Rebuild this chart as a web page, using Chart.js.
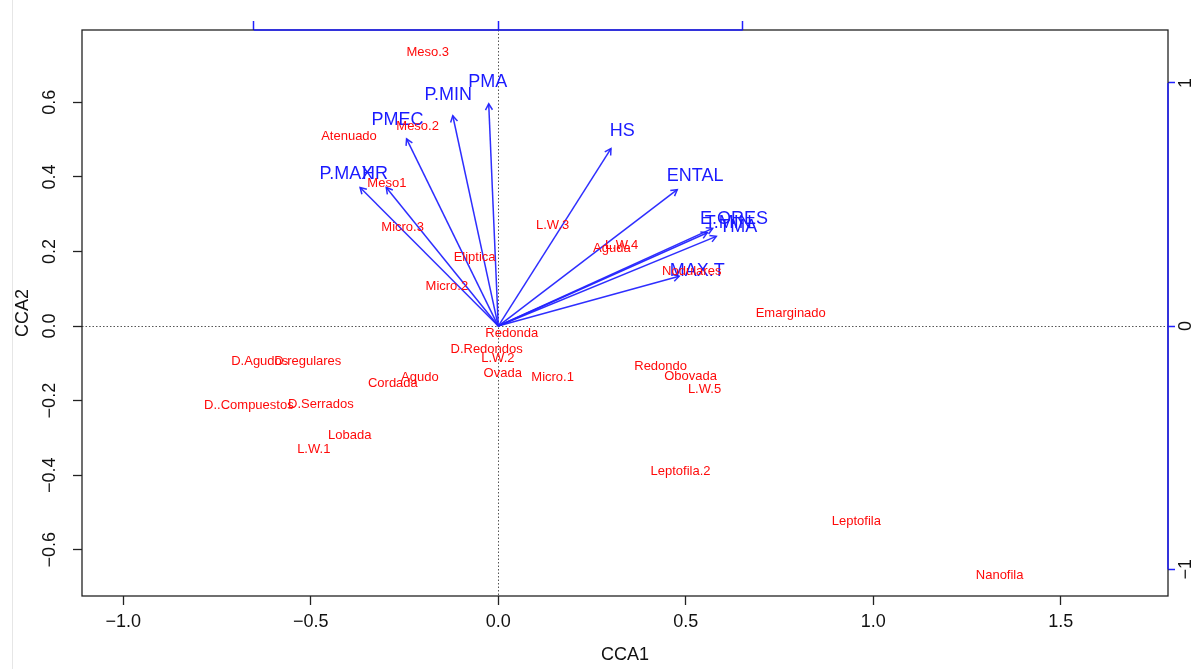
<!DOCTYPE html>
<html lang="es">
<head>
<meta charset="UTF-8">
<title>CCA</title>
<style>
  html, body { margin: 0; padding: 0; background: #fff; }
  canvas { display: block; }
</style>
</head>
<body>
<canvas id="cca" width="1197" height="669"></canvas>
<script src="https://cdn.jsdelivr.net/npm/chart.js"></script>
<script>
// puntajes de las categorias foliares (CCA1, CCA2)
const sitios = ['Meso.3', 'Atenuado', 'Meso.2', 'Meso1', 'Micro.3', 'Eliptica', 'Micro.2',
  'L.W.3', 'L.W.4', 'Aguda', 'Nodulares', 'Emarginado', 'Redonda', 'D.Redondos', 'L.W.2',
  'Ovada', 'Micro.1', 'D.Agudos', 'D.regulares', 'Cordada', 'Agudo', 'D..Compuestos',
  'D.Serrados', 'Lobada', 'L.W.1', 'Redondo', 'Obovada', 'L.W.5', 'Leptofila.2',
  'Leptofila', 'Nanofila'];
const sitiosCCA1 = [-0.188, -0.398, -0.215, -0.297, -0.255, -0.063, -0.137,
  0.145, 0.329, 0.303, 0.516, 0.780, 0.036, -0.031, -0.001,
  0.012, 0.145, -0.636, -0.508, -0.281, -0.209, -0.665,
  -0.473, -0.396, -0.492, 0.433, 0.513, 0.550, 0.486,
  0.955, 1.337];
const sitiosCCA2 = [0.735, 0.509, 0.536, 0.383, 0.265, 0.185, 0.105,
  0.271, 0.217, 0.209, 0.147, 0.035, -0.021, -0.062, -0.088,
  -0.126, -0.139, -0.094, -0.094, -0.153, -0.137, -0.214,
  -0.209, -0.292, -0.332, -0.107, -0.134, -0.169, -0.391,
  -0.523, -0.668];

// variables ambientales (puntajes biplot)
const variables = ['PMA', 'P.MIN', 'PMEC', 'P.MAX', 'HR', 'HS', 'ENTAL', 'E.ORES', 'T.MIN', 'TMA', 'MAX.T'];
const varCCA1 = [-0.039, -0.186, -0.375, -0.565, -0.458, 0.461, 0.732, 0.877, 0.855, 0.892, 0.740];
const varCCA2 = [0.914, 0.865, 0.770, 0.570, 0.570, 0.730, 0.561, 0.402, 0.384, 0.369, 0.205];

const ticksX = [-1.0, -0.5, 0.0, 0.5, 1.0, 1.5];
const ticksY = [-0.6, -0.4, -0.2, 0.0, 0.2, 0.4, 0.6];
const ticksBiplot = [-1, 0, 1];

// limites del grafico y multiplicador de las flechas
const limX = [-1.110, 1.786];
const limY = [-0.724, 0.794];
const mul = 0.652;

const fuente = '"Liberation Sans", Arial, sans-serif';
Chart.defaults.font.family = fuente;

const fmt = v => (v < 0 ? '\u2212' : '') + Math.abs(v).toFixed(1);
const fmtInt = v => (v < 0 ? '\u2212' : '') + Math.abs(v).toFixed(0);

const azul = 'rgba(35,35,255,0.95)';

let datasets = [{
  label: 'sitios',
  data: sitios.map((s, i) => ({ x: sitiosCCA1[i], y: sitiosCCA2[i] })),
  pointRadius: 0,
  showLine: false,
  xAxisID: 'x',
  yAxisID: 'y'
}];
variables.forEach((v, i) => {
  datasets.push({
    label: v,
    data: [{ x: 0, y: 0 }, { x: varCCA1[i], y: varCCA2[i] }],
    showLine: true,
    borderColor: azul,
    borderWidth: 1.5,
    pointRadius: 0,
    xAxisID: 'x2',
    yAxisID: 'y2'
  });
});

function fijarTicks(lista) {
  return scale => { scale.ticks = lista.map(v => ({ value: v })); };
}

const biplot = {
  id: 'biplot',
  beforeDraw(chart) {
    const ctx = chart.ctx;
    ctx.save();
    ctx.fillStyle = '#fff';
    ctx.fillRect(0, 0, chart.width, chart.height);
    ctx.strokeStyle = '#e6e6e6';
    ctx.lineWidth = 1;
    ctx.beginPath();
    ctx.moveTo(12.5, 0);
    ctx.lineTo(12.5, chart.height);
    ctx.stroke();
    ctx.restore();
  },
  beforeDatasetsDraw(chart) {
    const { ctx, chartArea: a, scales } = chart;
    const x0 = scales.x.getPixelForValue(0);
    const y0 = scales.y.getPixelForValue(0);
    ctx.save();
    ctx.strokeStyle = '#555';
    ctx.lineWidth = 1;
    ctx.setLineDash([1.5, 2]);
    ctx.beginPath();
    ctx.moveTo(Math.round(x0) + 0.5, a.top);
    ctx.lineTo(Math.round(x0) + 0.5, a.bottom);
    ctx.moveTo(a.left, Math.round(y0) + 0.5);
    ctx.lineTo(a.right, Math.round(y0) + 0.5);
    ctx.stroke();
    ctx.restore();
  },
  afterDatasetsDraw(chart) {
    const { ctx, scales } = chart;
    ctx.save();
    // puntas de flecha y nombres de variables
    variables.forEach((v, i) => {
      const meta = chart.getDatasetMeta(i + 1);
      const p0 = meta.data[0], p1 = meta.data[1];
      const ang = Math.atan2(p1.y - p0.y, p1.x - p0.x);
      const L = 7;
      ctx.strokeStyle = azul;
      ctx.lineWidth = 1.5;
      ctx.beginPath();
      ctx.moveTo(p1.x - L * Math.cos(ang - Math.PI / 6), p1.y - L * Math.sin(ang - Math.PI / 6));
      ctx.lineTo(p1.x, p1.y);
      ctx.lineTo(p1.x - L * Math.cos(ang + Math.PI / 6), p1.y - L * Math.sin(ang + Math.PI / 6));
      ctx.stroke();
    });
    ctx.font = '18px ' + fuente;
    ctx.fillStyle = '#1a1aff';
    ctx.textAlign = 'center';
    ctx.textBaseline = 'middle';
    variables.forEach((v, i) => {
      const px = scales.x2.getPixelForValue(varCCA1[i] * 1.1);
      const py = scales.y2.getPixelForValue(varCCA2[i] * 1.1);
      ctx.fillText(v, px, py);
    });
    // nombres de sitios
    const meta = chart.getDatasetMeta(0);
    ctx.font = '13px ' + fuente;
    ctx.fillStyle = '#ff0a0a';
    sitios.forEach((s, i) => {
      const el = meta.data[i];
      ctx.fillText(s, el.x, el.y);
    });
    ctx.restore();
  },
  afterDraw(chart) {
    const { ctx, chartArea: a, scales } = chart;
    ctx.save();
    // marco
    ctx.strokeStyle = '#222';
    ctx.lineWidth = 1.3;
    ctx.strokeRect(a.left, a.top, a.right - a.left, a.bottom - a.top);
    // ejes azules de las flechas
    ctx.strokeStyle = '#2020ff';
    ctx.lineWidth = 1.5;
    ctx.beginPath();
    ctx.moveTo(scales.x2.getPixelForValue(ticksBiplot[0]), a.top);
    ctx.lineTo(scales.x2.getPixelForValue(ticksBiplot[ticksBiplot.length - 1]), a.top);
    ctx.moveTo(a.right, scales.y2.getPixelForValue(ticksBiplot[0]));
    ctx.lineTo(a.right, scales.y2.getPixelForValue(ticksBiplot[ticksBiplot.length - 1]));
    ctx.stroke();
    // etiquetas verticales
    ctx.fillStyle = '#111';
    ctx.font = '18px ' + fuente;
    ctx.textAlign = 'center';
    ctx.textBaseline = 'middle';
    ticksY.forEach(v => {
      ctx.save();
      ctx.translate(50, scales.y.getPixelForValue(v));
      ctx.rotate(-Math.PI / 2);
      ctx.fillText(fmt(v), 0, 0);
      ctx.restore();
    });
    ticksBiplot.forEach(v => {
      ctx.save();
      ctx.translate(1186, scales.y2.getPixelForValue(v));
      ctx.rotate(-Math.PI / 2);
      ctx.fillText(fmtInt(v), 0, 0);
      ctx.restore();
    });
    // titulos de ejes
    ctx.fillText('CCA1', (a.left + a.right) / 2, 655);
    ctx.save();
    ctx.translate(23, (a.top + a.bottom) / 2);
    ctx.rotate(-Math.PI / 2);
    ctx.fillText('CCA2', 0, 0);
    ctx.restore();
    ctx.restore();
  }
};

new Chart(document.getElementById('cca'), {
  type: 'scatter',
  data: { datasets: datasets },
  options: {
    responsive: false,
    devicePixelRatio: 1,
    animation: false,
    layout: { padding: 0 },
    plugins: { legend: { display: false }, tooltip: { enabled: false } },
    scales: {
      x: {
        type: 'linear', position: 'bottom', min: limX[0], max: limX[1],
        afterBuildTicks: fijarTicks(ticksX),
        afterFit: s => { s.height = 73; },
        border: { display: false },
        grid: { drawOnChartArea: false, tickLength: 9, tickColor: '#222', tickWidth: 1.3 },
        ticks: { autoSkip: false, maxRotation: 0, padding: 6, color: '#111', font: { size: 18 }, callback: v => fmt(v) }
      },
      y: {
        type: 'linear', position: 'left', min: limY[0], max: limY[1],
        afterBuildTicks: fijarTicks(ticksY),
        afterFit: s => { s.width = 82; },
        border: { display: false },
        grid: { drawOnChartArea: false, tickLength: 9, tickColor: '#222', tickWidth: 1.3 },
        ticks: { display: false }
      },
      x2: {
        type: 'linear', position: 'top', min: limX[0] / mul, max: limX[1] / mul,
        afterBuildTicks: fijarTicks(ticksBiplot),
        afterFit: s => { s.height = 30; },
        border: { display: false },
        grid: { drawOnChartArea: false, tickLength: 9, tickColor: '#2020ff', tickWidth: 1.5 },
        ticks: { display: false }
      },
      y2: {
        type: 'linear', position: 'right', min: limY[0] / mul, max: limY[1] / mul,
        afterBuildTicks: fijarTicks(ticksBiplot),
        afterFit: s => { s.width = 29; },
        border: { display: false },
        grid: { drawOnChartArea: false, tickLength: 7, tickColor: '#2020ff', tickWidth: 1.5 },
        ticks: { display: false }
      }
    }
  },
  plugins: [biplot]
});
</script>
</body>
</html>
